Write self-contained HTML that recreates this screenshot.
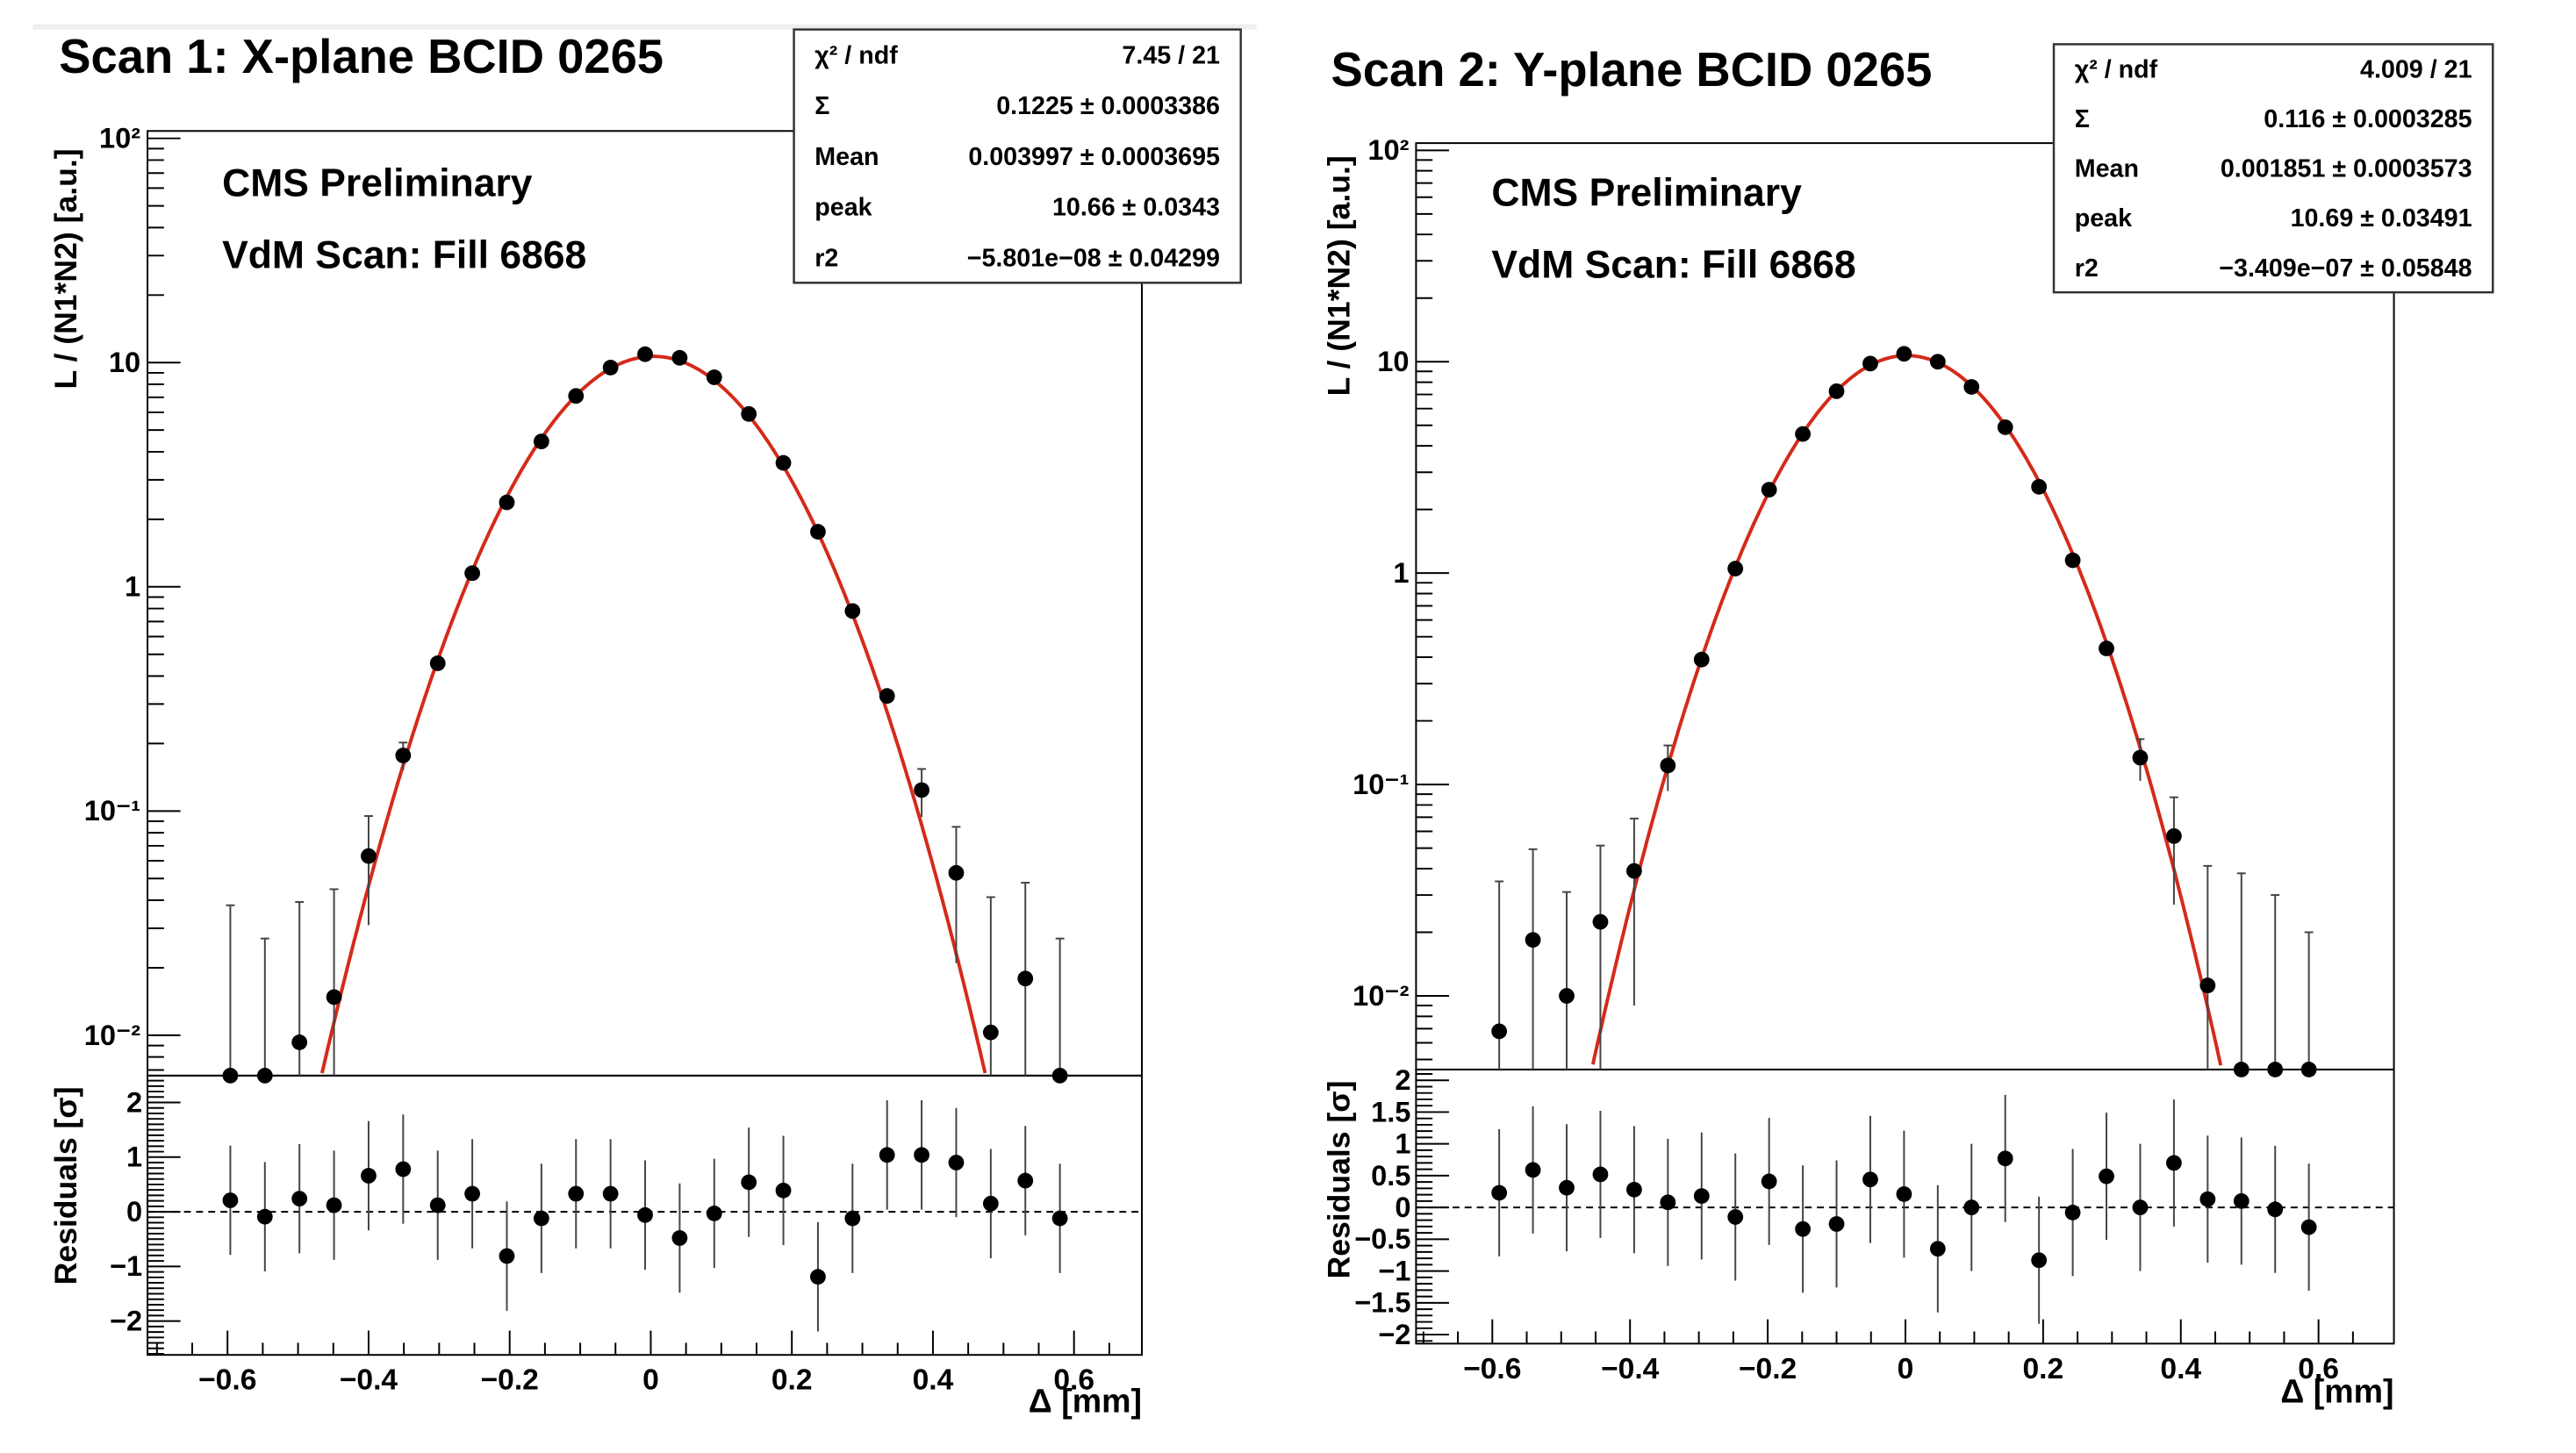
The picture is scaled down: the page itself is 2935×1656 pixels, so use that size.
<!DOCTYPE html>
<html><head><meta charset="utf-8"><style>
html,body{margin:0;padding:0;background:#fff;}
svg{display:block;font-family:"Liberation Sans",sans-serif;}
text{font-weight:bold;fill:#000;}
</style></head><body>
<svg width="2935" height="1656" viewBox="0 0 2935 1656" xmlns="http://www.w3.org/2000/svg">
<g id="c" transform="scale(0.9886)">
<rect x="38" y="28" width="1410" height="6" fill="#eee"/>
</g>
</svg>
<script>
// ---- Scan 1 (X-plane) data ----
const xStart1 = -0.596, xStep1 = 0.049;
const lumi1 = [0.005,0.005,0.0093,0.0148,0.063,0.177,0.456,1.15,2.38,4.45,7.1,9.5,10.9,10.5,8.6,5.9,3.57,1.76,0.78,0.326,0.124,0.053,0.0103,0.0179,0.005];
const lumiErr1 = [0.033,0.022,0.03,0.03,0.032,0.025,0.02,0.03,0.05,0.08,0.1,0.12,0.13,0.13,0.11,0.09,0.06,0.04,0.03,0.02,0.03,0.032,0.031,0.03,0.022];
const resid1 = [0.21,-0.09,0.24,0.12,0.66,0.78,0.12,0.33,-0.81,-0.12,0.33,0.33,-0.06,-0.48,-0.03,0.54,0.39,-1.19,-0.12,1.04,1.04,0.9,0.15,0.57,-0.12];
const fit1 = {peak:10.66, sigma:0.1225, mean:0.003997};
const stats1 = [["χ² / ndf","7.45 / 21"],["Σ","0.1225 ± 0.0003386"],["Mean","0.003997 ± 0.0003695"],["peak","10.66 ± 0.0343"],["r2","−5.801e−08 ± 0.04299"]];
// ---- Scan 2 (Y-plane) data ----
const xStart2 = -0.59, xStep2 = 0.049;
const lumi2 = [0.0068,0.0184,0.0100,0.0224,0.039,0.123,0.39,1.05,2.48,4.55,7.25,9.8,10.9,10.0,7.6,4.9,2.56,1.15,0.44,0.134,0.057,0.0112,0.004,0.004,0.004];
const lumiErr2 = [0.028,0.031,0.021,0.029,0.03,0.03,0.02,0.03,0.05,0.08,0.1,0.12,0.13,0.13,0.11,0.09,0.06,0.04,0.03,0.03,0.03,0.03,0.034,0.026,0.016];
const resid2 = [0.23,0.59,0.31,0.52,0.28,0.08,0.18,-0.15,0.41,-0.34,-0.26,0.44,0.21,-0.65,0.0,0.77,-0.83,-0.08,0.49,0,0.7,0.13,0.1,-0.03,-0.31];
const fit2 = {peak:10.69, sigma:0.116, mean:0.001851};
const stats2 = [["χ² / ndf","4.009 / 21"],["Σ","0.116 ± 0.0003285"],["Mean","0.001851 ± 0.0003573"],["peak","10.69 ± 0.03491"],["r2","−3.409e−07 ± 0.05848"]];
const xTicks = [-0.6,-0.4,-0.2,0,0.2,0.4,0.6];
const xTickLabels = ["−0.6","−0.4","−0.2","0","0.2","0.4","0.6"];

const NS="http://www.w3.org/2000/svg";
const svg=document.getElementById('c');
function mk(tag,attrs,parent,txt){const e=document.createElementNS(NS,tag);for(const k in attrs)e.setAttribute(k,attrs[k]);if(txt!==undefined)e.textContent=txt;(parent||svg).appendChild(e);return e;}

function panel(p){
  const g=mk('g',{});
  
  
  const X=v=>p.x0+v*p.xs;
  const Y=v=>p.y10-(Math.log10(v)-1)*p.dec;
  const R=v=>p.r0-v*p.rs;
  const clampY=y=>Math.min(Math.max(y,p.top),p.split);
  const f1=mk('rect',{x:p.left,y:p.top,width:p.right-p.left,height:p.split-p.top,fill:'none',stroke:'#000','stroke-width':2},g);
  
  const f2=mk('rect',{x:p.left,y:p.split,width:p.right-p.left,height:p.bottom-p.split,fill:'none',stroke:'#000','stroke-width':2},g);
  
  const logTicks=[[-2,"10⁻²"],[-1,"10⁻¹"],[0,"1"],[1,"10"],[2,"10²"]];
  for(let d=-3;d<=2;d++){for(let m=1;m<=9;m++){const v=m*Math.pow(10,d);const y=Y(v);if(y<p.top-1||y>p.split)continue;
    mk('line',{x1:p.left,x2:p.left+(m===1?38:19),y1:y,y2:y,stroke:'#000','stroke-width':2},g);}}
  logTicks.forEach(t=>{const y=Y(Math.pow(10,t[0]));const tx=mk('text',{x:p.left-8,y:y+11,'text-anchor':'end','font-size':33},g,t[1]);
    });
  for(let v=-3;v<=3;v+=0.1){const vv=Math.round(v*10)/10;const y=R(vv);if(y<p.split||y>p.bottom)continue;
    const major=Math.abs(vv*2-Math.round(vv*2))<1e-6&&(p.resStep===0.5||Number.isInteger(vv));
    mk('line',{x1:p.left,x2:p.left+(major?38:19),y1:y,y2:y,stroke:'#000','stroke-width':2},g);}
  p.resLabels.forEach(v=>{const y=R(v);const tx=mk('text',{x:p.left-6,y:y+11,'text-anchor':'end','font-size':33},g,(v<0?'−':'')+Math.abs(v));
    });
  for(let v=-0.7;v<=0.7;v+=0.05){const vv=Math.round(v*100)/100;const x=X(vv);if(x<p.left||x>p.right)continue;
    const major=Math.abs(vv*5-Math.round(vv*5))<1e-6;
    mk('line',{x1:x,x2:x,y1:p.bottom,y2:p.bottom-(major?28:14),stroke:'#000','stroke-width':2},g);}
  xTicks.forEach((v,i)=>{const tx=mk('text',{x:X(v),y:p.bottom+40,'text-anchor':'middle','font-size':34},g,xTickLabels[i]);
    });
  const zl=mk('line',{x1:p.left,x2:p.right,y1:R(0),y2:R(0),stroke:'#000','stroke-width':2,'stroke-dasharray':'8,6'},g);
  
  let d='';let first=true;
  for(let x=-0.7;x<=0.7;x+=0.002){const v=p.fit.peak*Math.exp(-Math.pow(x-p.fit.mean,2)/(2*p.fit.sigma*p.fit.sigma));
    const y=Y(v);if(y>p.split)continue;d+=(first?'M':'L')+X(x).toFixed(1)+','+y.toFixed(1);first=false;}
  const fc=mk('path',{d:d,fill:'none',stroke:'#d42a1a','stroke-width':4},g);
  
  p.lumi.forEach((v,i)=>{const xv=p.xStart+i*p.xStep;const cx=X(xv);const cy=clampY(Y(v));
    const e=p.err[i];const hi=clampY(Y(v+e));const lo=v-e>0?clampY(Y(v-e)):p.split;
    const eb=mk('line',{x1:cx,x2:cx,y1:hi,y2:lo,stroke:'#444','stroke-width':2},g);
    
    mk('line',{x1:cx-5,x2:cx+5,y1:hi,y2:hi,stroke:'#444','stroke-width':2},g);
    const c=mk('circle',{cx:cx,cy:cy,r:9,fill:'#000'},g);
    
    const r=p.res[i];const ry=R(r);
    const rb=mk('line',{x1:cx,x2:cx,y1:R(r+1),y2:R(r-1),stroke:'#444','stroke-width':2},g);
    
    const rc=mk('circle',{cx:cx,cy:ry,r:9,fill:'#000'},g);
    
  });
  const t=mk('text',{x:p.titleX,y:p.titleY,'font-size':55},g,p.title);
  
  const c1=mk('text',{x:p.cmsX,y:p.cmsY,'font-size':45},g,'CMS Preliminary');
  
  const c2=mk('text',{x:p.cmsX,y:p.cmsY+83,'font-size':45},g,'VdM Scan: Fill 6868');
  
  const yt=mk('text',{x:0,y:0,'font-size':36,transform:`translate(${p.ytX},${p.ytY}) rotate(-90)`,'text-anchor':'middle'},g,'L / (N1*N2) [a.u.]');
  
  const rt=mk('text',{x:0,y:0,'font-size':36,transform:`translate(${p.ytX},${p.rtY}) rotate(-90)`,'text-anchor':'middle'},g,'Residuals [σ]');
  
  const xt=mk('text',{x:p.right,y:p.xtY,'text-anchor':'end','font-size':38},g,'Δ [mm]');
  
  const sb=mk('g',{},g);
  
  mk('rect',{x:p.sb[0],y:p.sb[1],width:p.sb[2]-p.sb[0],height:p.sb[3]-p.sb[1],fill:'#fff',stroke:'#333','stroke-width':2.5},sb);
  const rh=(p.sb[3]-p.sb[1])/5;
  p.stats.forEach((s,i)=>{const y=p.sb[1]+rh*(i+0.5)+10;
    const l=mk('text',{x:p.sb[0]+24,y:y,'font-size':29},sb,s[0]);
    
    const v=mk('text',{x:p.sb[2]-24,y:y,'font-size':29,'text-anchor':'end'},sb,s[1]);
    });
}

panel({name:'scan1-x-plane',left:170,right:1316,top:151,split:1240,bottom:1562,
  x0:750,xs:813,y10:418,dec:258.5,r0:1397,rs:63,resStep:1,resLabels:[-2,-1,0,1,2],
  lumi:lumi1,err:lumiErr1,res:resid1,fit:fit1,xStart:xStart1,xStep:xStep1,stats:stats1,
  title:'Scan 1: X-plane BCID 0265',titleX:68,titleY:84,cmsX:256,cmsY:226,ytX:88,ytY:310,rtY:1367,xtY:1628,
  sb:[915,34,1430,326]});
panel({name:'scan2-y-plane',left:1632,right:2759,top:165,split:1233,bottom:1549,
  x0:2196,xs:793.5,y10:417,dec:243.7,r0:1392,rs:73.3,resStep:0.5,resLabels:[-2,-1.5,-1,-0.5,0,0.5,1,1.5,2],
  lumi:lumi2,err:lumiErr2,res:resid2,fit:fit2,xStart:xStart2,xStep:xStep2,stats:stats2,
  title:'Scan 2: Y-plane BCID 0265',titleX:1534,titleY:99,cmsX:1719,cmsY:237,ytX:1555,ytY:318,rtY:1360,xtY:1617,
  sb:[2367,51,2873,337]});
</script>
</body></html>
